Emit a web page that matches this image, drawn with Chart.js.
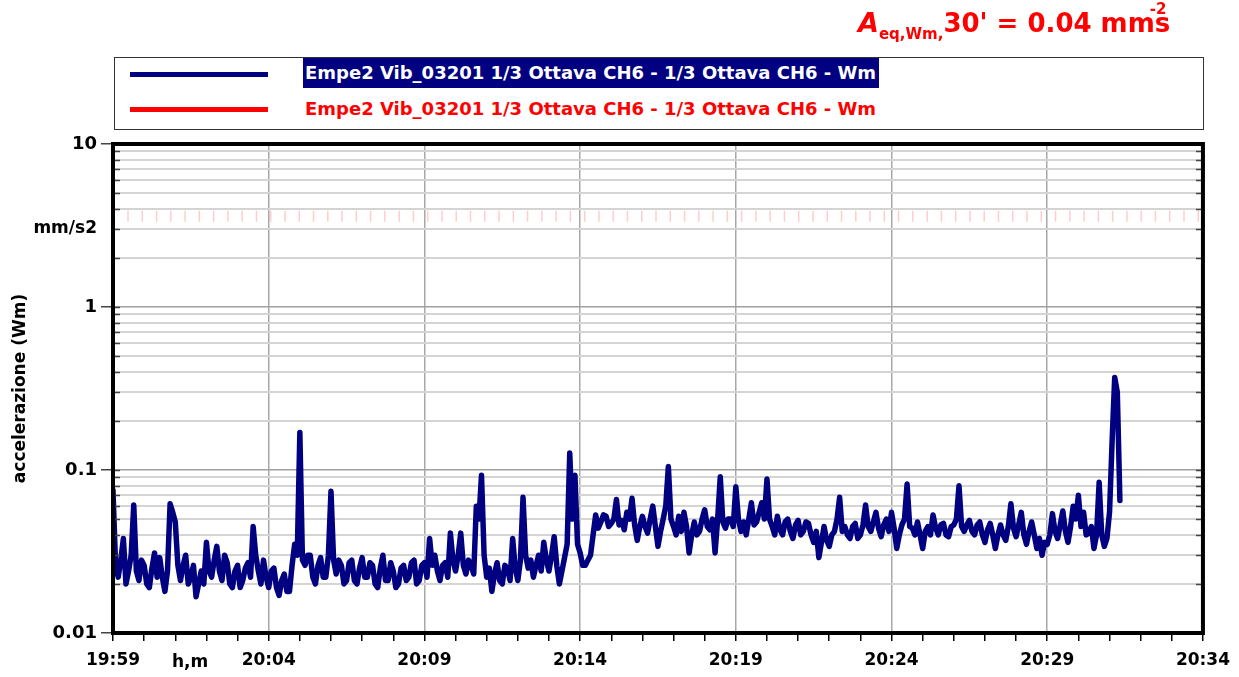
<!DOCTYPE html>
<html><head><meta charset="utf-8">
<script src="https://cdn.jsdelivr.net/npm/chart.js@4"></script>
<style>
body{margin:0;background:#fff;}
#wrap{position:relative;width:1239px;height:677px;font-family:'DejaVu Sans',sans-serif;font-weight:bold;overflow:hidden;}
canvas{position:absolute;left:0;top:0;}
.ov{position:absolute;white-space:nowrap;}
#title{left:858px;top:8px;color:#ff0000;font-size:26px;line-height:30px;}
#legend{left:114px;top:57px;width:1088px;height:71px;border:1px solid #333;background:#fff;}
.swatch{position:absolute;left:15px;width:138px;height:5px;}
.ltext{position:absolute;left:188px;font-size:18px;line-height:30px;padding:0 3px 0 2px;}
</style></head><body>
<div id="wrap">
<canvas id="c" width="1239" height="677"></canvas>
<div class="ov" id="title"><span style="font-style:italic;font-size:27px">A</span><span style="font-size:15px;position:relative;top:7px">eq,Wm,</span>30' = 0.04 mm<span style="position:relative">s<span style="position:absolute;left:-5px;top:-6px;font-size:15px;line-height:15px">-2</span></span></div>
<div class="ov" id="legend">
  <div class="swatch" style="top:14px;background:#000080"></div>
  <div class="swatch" style="top:49px;background:#ff0000"></div>
  <div class="ltext" style="top:0px;background:#000080;color:#fff">Empe2 Vib_03201 1/3 Ottava CH6 - 1/3 Ottava CH6 - Wm</div>
  <div class="ltext" style="top:36px;color:#ff0000">Empe2 Vib_03201 1/3 Ottava CH6 - 1/3 Ottava CH6 - Wm</div>
</div>
<div class="ov" style="right:1142px;top:217px;font-size:17px;color:#000">mm/s2</div>
<div class="ov" style="left:172px;top:651px;font-size:17px;color:#000">h,m</div>
</div>
<script>
// ---- data ----
const sampleSeconds = 5; // spacing of the blue series samples, from 19:59:00
const blueValues = [
0.075,0.026,0.022,0.028,0.038,0.020,0.024,0.030,0.061,0.024,
0.021,0.028,0.026,0.020,0.019,0.025,0.031,0.022,0.029,0.022,
0.018,0.024,0.062,0.055,0.048,0.026,0.021,0.026,0.030,0.020,
0.022,0.026,0.0167,0.020,0.024,0.020,0.036,0.024,0.022,0.028,
0.034,0.024,0.021,0.030,0.027,0.020,0.019,0.024,0.026,0.019,
0.021,0.025,0.027,0.022,0.045,0.030,0.024,0.020,0.028,0.022,
0.019,0.024,0.025,0.019,0.017,0.021,0.023,0.018,0.018,0.026,
0.035,0.030,0.170,0.028,0.026,0.030,0.030,0.022,0.020,0.026,
0.029,0.022,0.022,0.030,0.074,0.028,0.023,0.028,0.026,0.020,
0.021,0.027,0.028,0.021,0.020,0.025,0.029,0.022,0.022,0.027,
0.026,0.020,0.019,0.025,0.030,0.021,0.021,0.027,0.024,0.019,
0.020,0.025,0.026,0.021,0.022,0.027,0.028,0.020,0.021,0.026,
0.027,0.022,0.038,0.026,0.030,0.024,0.021,0.026,0.027,0.022,
0.041,0.028,0.024,0.030,0.041,0.026,0.023,0.028,0.026,0.023,
0.060,0.050,0.093,0.030,0.022,0.025,0.018,0.023,0.027,0.021,
0.020,0.026,0.025,0.021,0.038,0.025,0.021,0.028,0.068,0.030,
0.025,0.028,0.022,0.026,0.030,0.024,0.036,0.028,0.024,0.030,
0.039,0.026,0.020,0.024,0.029,0.035,0.127,0.050,0.093,0.035,
0.031,0.026,0.026,0.028,0.030,0.040,0.053,0.044,0.048,0.053,
0.052,0.045,0.047,0.050,0.066,0.046,0.049,0.043,0.055,0.050,
0.067,0.046,0.037,0.045,0.052,0.045,0.041,0.050,0.060,0.045,
0.034,0.042,0.050,0.060,0.105,0.050,0.045,0.040,0.052,0.042,
0.055,0.045,0.031,0.040,0.048,0.040,0.042,0.050,0.057,0.045,
0.043,0.050,0.031,0.050,0.091,0.048,0.044,0.050,0.050,0.045,
0.079,0.050,0.042,0.048,0.040,0.050,0.063,0.046,0.048,0.055,
0.063,0.050,0.088,0.050,0.045,0.040,0.052,0.043,0.040,0.048,
0.050,0.042,0.038,0.046,0.049,0.040,0.042,0.048,0.047,0.040,
0.036,0.042,0.029,0.036,0.045,0.037,0.034,0.040,0.042,0.050,
0.068,0.042,0.045,0.040,0.038,0.045,0.047,0.038,0.040,0.046,
0.061,0.045,0.042,0.048,0.055,0.044,0.039,0.046,0.050,0.042,
0.055,0.044,0.033,0.040,0.046,0.050,0.082,0.045,0.044,0.040,
0.048,0.040,0.033,0.042,0.045,0.040,0.053,0.044,0.040,0.046,
0.047,0.040,0.039,0.045,0.046,0.050,0.080,0.045,0.042,0.046,
0.049,0.042,0.040,0.046,0.048,0.040,0.036,0.043,0.047,0.040,
0.033,0.040,0.046,0.040,0.037,0.045,0.062,0.044,0.039,0.046,
0.055,0.040,0.035,0.042,0.048,0.040,0.033,0.038,0.030,0.036,
0.035,0.040,0.054,0.042,0.038,0.046,0.056,0.042,0.036,0.045,
0.060,0.050,0.070,0.045,0.055,0.040,0.041,0.045,0.033,0.040,
0.084,0.040,0.034,0.038,0.055,0.150,0.370,0.300,0.065
];
const redLevel = 3.6;           // red series level, mm/s2
const xMinutesSpan = [0, 35];   // 19:59 .. 20:34
const xTickLabels = ['19:59','20:04','20:09','20:14','20:19','20:24','20:29','20:34'];
const yTickValues = [0.01,0.02,0.03,0.04,0.05,0.06,0.07,0.08,0.09,
                     0.1,0.2,0.3,0.4,0.5,0.6,0.7,0.8,0.9,
                     1,2,3,4,5,6,7,8,9,10];
const yMajorValues = [0.01,0.1,1,10];
const yMajorLabels = ['0.01','0.1','1','10'];

const blueData = blueValues.map((v,i)=>({x: i*sampleSeconds/60, y: v}));
const redData = [{x: xMinutesSpan[0], y: redLevel},{x: xMinutesSpan[1], y: redLevel}];
const isMajor = v => yMajorValues.indexOf(v) >= 0;

const framePlugin = {
  id:'frame',
  afterDatasetsDraw(chart){
    const {ctx, chartArea:a, scales} = chart;
    ctx.save();
    ctx.strokeStyle = '#444'; ctx.lineWidth = 1.5;
    yTickValues.forEach(v=>{
      const y = Math.round(scales.y.getPixelForValue(v))+0.5;
      ctx.beginPath();
      ctx.moveTo(a.left, y); ctx.lineTo(a.left+7, y);
      ctx.moveTo(a.right-7, y); ctx.lineTo(a.right, y);
      ctx.stroke();
    });
    ctx.strokeStyle = '#000'; ctx.lineWidth = 4;
    ctx.strokeRect(a.left, a.top, a.right-a.left, a.bottom-a.top);
    ctx.restore();
  }
};

new Chart(document.getElementById('c'), {
  type:'line',
  data:{datasets:[
    {label:'Empe2 Vib_03201 1/3 Ottava CH6 - 1/3 Ottava CH6 - Wm (soglia)', data:redData,
     borderColor:'rgba(255,0,0,0.2)', borderWidth:11, borderDash:[1.5,12.77], borderCapStyle:'butt',
     pointRadius:0, fill:false},
    {label:'Empe2 Vib_03201 1/3 Ottava CH6 - 1/3 Ottava CH6 - Wm', data:blueData,
     borderColor:'#000080', borderWidth:5.5, borderJoinStyle:'round', borderCapStyle:'round',
     pointRadius:0, tension:0, fill:false}
  ]},
  options:{
    responsive:false, animation:false, devicePixelRatio:1,
    layout:{padding:{left:0,right:36,top:144,bottom:0}},
    plugins:{legend:{display:false}, tooltip:{enabled:false}, title:{display:false}},
    scales:{
      x:{type:'linear', min:xMinutesSpan[0], max:xMinutesSpan[1],
         afterFit:s=>{s.height=44;},
         border:{display:false},
         grid:{color:c=> (c.tick && Math.round(c.tick.value)%5===0) ? '#a8a8a8' : 'rgba(0,0,0,0)',
               lineWidth:1.5, tickColor:'#000', tickLength:8, tickWidth:1.5},
         ticks:{stepSize:1, autoSkip:false, maxRotation:0, padding:9, color:'#000',
                font:{family:'DejaVu Sans', weight:'bold', size:17},
                callback:v=>{const r=Math.round(v); return r%5===0 ? xTickLabels[r/5] : '';}}
      },
      y:{type:'logarithmic', min:0.01, max:10,
         afterFit:s=>{s.width=113;},
         afterBuildTicks:s=>{s.ticks = yTickValues.map(v=>({value:v}));},
         border:{display:false},
         grid:{color:c=> (c.tick && isMajor(c.tick.value)) ? '#a0a0a0' : '#d4d4d4',
               lineWidth:c=> (c.tick && isMajor(c.tick.value)) ? 1.5 : 2,
               tickColor:c=> (c.tick && isMajor(c.tick.value)) ? '#444' : 'rgba(0,0,0,0)',
               tickLength:12, tickWidth:1.5},
         ticks:{padding:4, color:'#000', autoSkip:false,
                font:{family:'DejaVu Sans', weight:'bold', size:18},
                callback:v=>{const k=yMajorValues.indexOf(v); return k>=0 ? yMajorLabels[k] : '';}},
         title:{display:true, text:'accelerazione (Wm)', color:'#000', padding:{top:10,bottom:0},
                font:{family:'DejaVu Sans', weight:'bold', size:17}}
      }
    }
  },
  plugins:[framePlugin]
});
</script>
</body></html>
